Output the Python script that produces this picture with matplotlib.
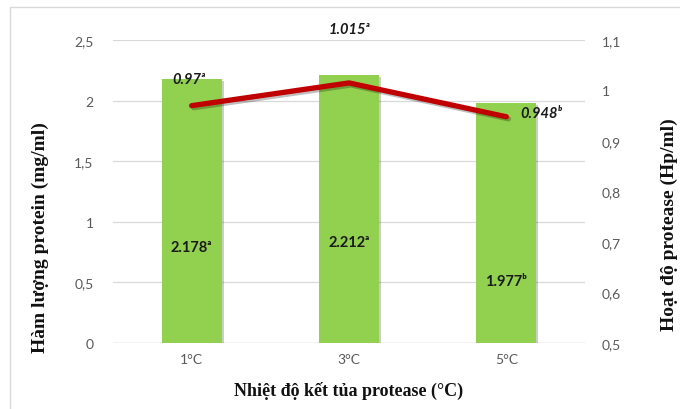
import matplotlib
matplotlib.use('Agg')
import matplotlib.pyplot as plt
import matplotlib.patheffects as pe
from matplotlib.patches import Rectangle

categories = ['1°C', '3°C', '5°C']
protein = [2.178, 2.212, 1.977]
protein_labels = ['2.178ᵃ', '2.212ᵃ', '1.977ᵇ']
protein_label_y = [0.79, 0.83, 0.51]
activity = [0.97, 1.015, 0.948]
activity_labels = ['0.97ᵃ', '1.015ᵃ', '0.948ᵇ']
activity_label_x = [-0.02, 1.0, 2.22]
activity_label_y = [1.023, 1.122, 0.955]
left_ticks = [0, 0.5, 1, 1.5, 2, 2.5]
left_ticklabels = ['0', '0,5', '1', '1,5', '2', '2,5']
right_ticks = [0.5, 0.6, 0.7, 0.8, 0.9, 1.0, 1.1]
right_ticklabels = ['0,5', '0,6', '0,7', '0,8', '0,9', '1', '1,1']

tick_font = ['Lato', 'DejaVu Sans']
serif = 'Liberation Serif'

fig = plt.figure(figsize=(6.8, 4.1), dpi=100)
fig.patches.append(Rectangle((10 / 680, -0.1), 1.2, 1 - 8 / 410 + 0.1,
                             transform=fig.transFigure, fill=False,
                             edgecolor='#D9D9D9', linewidth=1.0))

ax = fig.add_axes([113 / 680, 1 - 344 / 410, 472 / 680, 303 / 410])
x = range(len(categories))

shadow = [pe.SimplePatchShadow(offset=(1.5, -1.5), alpha=0.25), pe.Normal()]
ax.bar(x, protein, width=0.38, color='#92D050', zorder=2, path_effects=shadow)
ax.set_xlim(-0.5, 2.5)
ax.set_ylim(0, 2.5)
ax.set_yticks(left_ticks)
ax.set_yticklabels(left_ticklabels, family=tick_font, fontsize=10, color='#595959')
ax.set_xticks(list(x))
ax.set_xticklabels(categories, family=tick_font, fontsize=10, color='#595959')
ax.tick_params(axis='y', length=0, pad=14)
ax.tick_params(axis='x', length=0, pad=7)
ax.grid(axis='y', color='#D9D9D9', linewidth=0.9, zorder=0)
ax.set_axisbelow(True)
for s in ax.spines.values():
    s.set_visible(False)
ax.axhline(0, color='#BFBFBF', linewidth=0.9, zorder=1)

for i, t in enumerate(protein_labels):
    ax.text(i, protein_label_y[i], t, ha='center', va='center',
            family=tick_font, fontsize=10.5, fontweight='bold', color='#1a1a1a', zorder=4)

ax2 = ax.twinx()
ax2.set_ylim(0.5, 1.1)
ax2.set_yticks(right_ticks)
ax2.set_yticklabels(right_ticklabels, family=tick_font, fontsize=10, color='#595959')
ax2.tick_params(axis='y', length=0, pad=12)
for s in ax2.spines.values():
    s.set_visible(False)
line_shadow = [pe.SimpleLineShadow(offset=(1.5, -1.5), alpha=0.25), pe.Normal()]
ax2.plot(list(x), activity, color='#C00000', linewidth=3.8,
         solid_capstyle='round', zorder=3, path_effects=line_shadow)

for i, t in enumerate(activity_labels):
    ax2.text(activity_label_x[i], activity_label_y[i], t, ha='center', va='center',
             family=tick_font, fontsize=10.5, fontweight='bold', style='italic',
             color='#1a1a1a', clip_on=False, zorder=5)

ax.set_xlabel('Nhiệt độ kết tủa protease (°C)', family=serif, fontsize=13,
              fontweight='bold', color='#111111', labelpad=12)
fig.text(40 / 680, 1 - 238 / 410, 'Hàm lượng protein (mg/ml)', rotation=90,
         ha='center', va='center', family=serif, fontsize=14, fontweight='bold',
         color='#111111')
fig.text(669 / 680, 1 - 225 / 410, 'Hoạt độ protease (Hp/ml)', rotation=90,
         ha='center', va='center', family=serif, fontsize=14, fontweight='bold',
         color='#111111')

fig.savefig('out.png', dpi=100)
